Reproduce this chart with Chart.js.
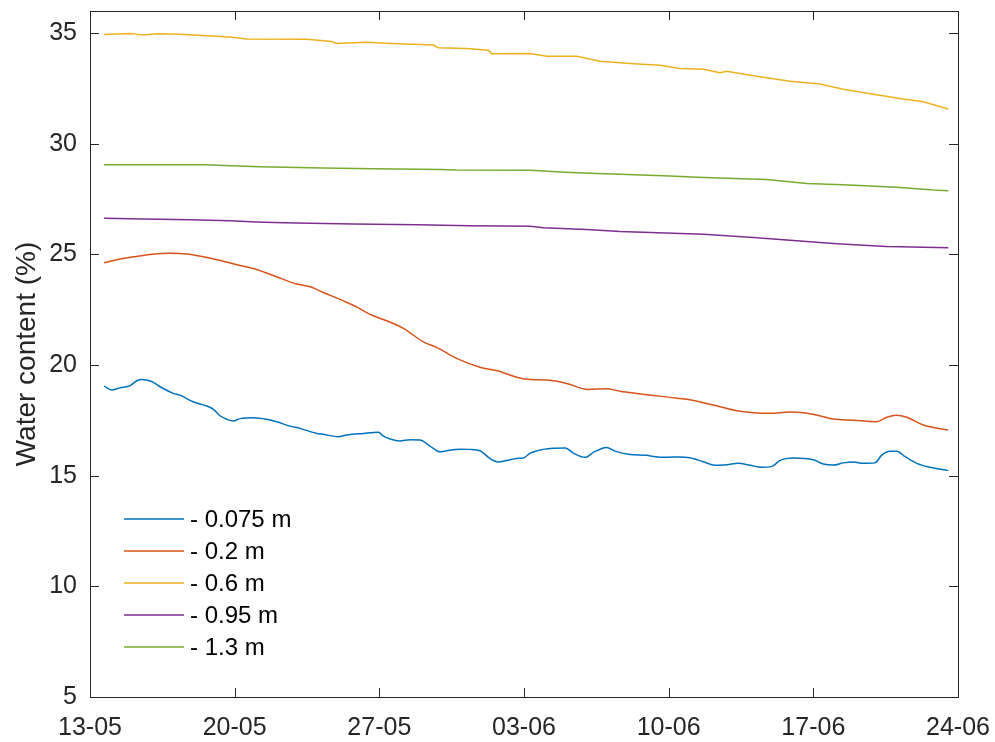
<!DOCTYPE html>
<html>
<head>
<meta charset="utf-8">
<title>Water content</title>
<script src="https://cdn.jsdelivr.net/npm/chart.js@4.4.1/dist/chart.umd.min.js"></script>
<style>
  html, body { margin: 0; padding: 0; background: #ffffff; }
  #wrap { width: 995px; height: 742px; }
</style>
</head>
<body>
<div id="wrap"><canvas id="c" width="995" height="742"></canvas></div>
<script>
// Days counted from 13-05; tick labels every week
const xTickDays = [0, 7, 14, 21, 28, 35, 42];
const xTickLabels = ['13-05', '20-05', '27-05', '03-06', '10-06', '17-06', '24-06'];
const yTicks = [5, 10, 15, 20, 25, 30, 35];

const seriesLabels = ['- 0.075 m', '- 0.2 m', '- 0.6 m', '- 0.95 m', '- 1.3 m'];
const seriesColors = ['#0072BD', '#D95319', '#EDB120', '#7E2F8E', '#77AC30'];

// - 0.075 m
const daysA = [0.68, 1.05, 1.45, 1.94, 2.26, 2.5, 2.98, 3.39, 4.03, 4.35, 4.99, 5.65, 5.97, 6.29, 6.62, 6.94,
  7.26, 7.9, 8.55, 9.03, 9.68, 10.16, 10.97, 11.29, 12.02, 12.42, 13.23, 13.95, 14.2, 14.52, 15.0, 15.48,
  15.97, 16.45, 16.94, 17.26, 17.9, 18.39, 18.87, 19.35, 19.76, 20.16, 20.65, 20.97, 21.29, 21.94, 22.42,
  23.0, 23.4, 23.95, 24.4, 25.0, 25.4, 26.13, 26.94, 27.26, 27.9, 28.5, 29.03, 29.68, 30.24, 30.81, 31.37,
  31.94, 32.5, 32.98, 33.39, 34.03, 35.0, 35.48, 35.97, 36.45, 36.94, 37.42, 37.98, 38.31, 38.71, 39.03,
  39.44, 40.0, 40.65, 41.53];
const valsA = [19.05, 18.87, 18.97, 19.07, 19.29, 19.35, 19.26, 19.02, 18.72, 18.64, 18.34, 18.15, 18.0, 17.71,
  17.55, 17.47, 17.58, 17.62, 17.55, 17.44, 17.24, 17.14, 16.91, 16.87, 16.76, 16.84, 16.91, 16.96, 16.79,
  16.66, 16.57, 16.63, 16.61, 16.34, 16.08, 16.13, 16.2, 16.19, 16.13, 15.78, 15.62, 15.69, 15.78, 15.8,
  16.01, 16.19, 16.24, 16.25, 16.01, 15.83, 16.08, 16.28, 16.11, 15.96, 15.92, 15.87, 15.83, 15.85, 15.81,
  15.63, 15.47, 15.5, 15.56, 15.47, 15.38, 15.41, 15.69, 15.8, 15.72, 15.53, 15.48, 15.58, 15.62, 15.56,
  15.58, 15.93, 16.1, 16.1, 15.86, 15.56, 15.38, 15.23];

// - 0.2 m
const daysB = [0.68, 1.45, 2.1, 2.9, 3.87, 4.68, 5.48, 6.45, 7.26, 8.06, 9.03, 10.0, 10.65, 11.29, 12.26, 12.9,
  13.55, 14.19, 15.16, 16.13, 16.77, 17.74, 18.87, 19.76, 20.32, 21.05, 22.26, 23.07, 24.1, 25.0, 25.65,
  26.45, 27.26, 28.06, 28.87, 29.68, 30.48, 31.29, 32.1, 32.9, 33.87, 34.52, 35.16, 35.97, 36.94, 38.06,
  38.55, 39.03, 39.52, 40.32, 41.53];
const valsB = [24.62, 24.79, 24.89, 25.0, 25.05, 25.02, 24.89, 24.69, 24.5, 24.32, 23.99, 23.66, 23.54, 23.28,
  22.9, 22.63, 22.29, 22.06, 21.66, 21.05, 20.8, 20.3, 19.9, 19.73, 19.55, 19.37, 19.31, 19.17, 18.9, 18.93,
  18.82, 18.72, 18.63, 18.54, 18.45, 18.3, 18.12, 17.94, 17.85, 17.82, 17.88, 17.85, 17.74, 17.56, 17.51,
  17.44, 17.64, 17.73, 17.64, 17.29, 17.06];

// - 0.6 m
const daysC = [0.68, 1.94, 2.58, 3.23, 4.35, 5.65, 6.77, 7.58, 10.48, 11.69, 11.94, 13.39, 14.52, 16.61, 16.85,
  18.23, 19.27, 19.44, 21.29, 22.1, 23.55, 24.68, 26.13, 27.58, 28.55, 29.68, 30.48, 30.81, 32.1, 33.87,
  35.32, 36.45, 37.9, 39.35, 40.32, 41.53];
const valsC = [34.94, 34.98, 34.91, 34.97, 34.95, 34.88, 34.83, 34.74, 34.72, 34.62, 34.53, 34.59, 34.53, 34.46,
  34.34, 34.31, 34.23, 34.07, 34.08, 33.96, 33.96, 33.73, 33.63, 33.55, 33.4, 33.37, 33.21, 33.28, 33.07,
  32.83, 32.7, 32.46, 32.24, 32.02, 31.9, 31.57];

// - 0.95 m
const daysD = [0.68, 2.58, 4.84, 6.78, 8.06, 9.35, 12.74, 15.81, 18.39, 21.29, 21.94, 24.03, 25.65, 29.68,
  32.1, 33.71, 36.13, 38.55, 41.53];
const valsD = [26.64, 26.6, 26.57, 26.52, 26.47, 26.43, 26.37, 26.34, 26.29, 26.27, 26.2, 26.13, 26.04, 25.91,
  25.77, 25.65, 25.48, 25.36, 25.3];

// - 1.3 m
const daysE = [0.68, 5.65, 6.45, 8.23, 11.29, 13.71, 16.94, 17.74, 21.29, 23.0, 24.52, 25.65, 28.06, 29.68,
  32.74, 34.68, 36.45, 39.03, 40.81, 41.53];
const valsE = [29.05, 29.05, 29.02, 28.96, 28.91, 28.87, 28.84, 28.81, 28.8, 28.71, 28.66, 28.62, 28.54, 28.48,
  28.39, 28.21, 28.15, 28.03, 27.91, 27.88];

const seriesDays = [daysA, daysB, daysC, daysD, daysE];
const seriesVals = [valsA, valsB, valsC, valsD, valsE];
const smoothSeries = [true, true, false, false, false];

const FONT = '"Liberation Sans", Arial, Helvetica, sans-serif';
const INK = '#262626';

const datasets = seriesLabels.map((label, i) => ({
  label,
  data: seriesDays[i].map((d, k) => ({ x: d, y: seriesVals[i][k] })),
  borderColor: seriesColors[i],
  backgroundColor: seriesColors[i],
  borderWidth: 1.5,
  pointRadius: 0,
  fill: false,
  cubicInterpolationMode: smoothSeries[i] ? 'monotone' : 'default',
  tension: 0
}));

// Box around the plot, inward ticks on all four sides, and an inline legend
const boxPlugin = {
  id: 'boxPlugin',
  afterDraw(chart) {
    const { ctx, chartArea: a, scales } = chart;
    const len = 9;
    ctx.save();
    ctx.strokeStyle = INK;
    ctx.lineWidth = 1;
    ctx.beginPath();
    xTickDays.forEach(v => {
      const px = Math.round(scales.x.getPixelForValue(v)) + 0.5;
      ctx.moveTo(px, a.bottom); ctx.lineTo(px, a.bottom - len);
      ctx.moveTo(px, a.top); ctx.lineTo(px, a.top + len);
    });
    yTicks.forEach(v => {
      const py = Math.round(scales.y.getPixelForValue(v)) + 0.5;
      ctx.moveTo(a.left, py); ctx.lineTo(a.left + len, py);
      ctx.moveTo(a.right, py); ctx.lineTo(a.right - len, py);
    });
    ctx.stroke();
    ctx.strokeRect(Math.round(a.left) + 0.5, Math.round(a.top) + 0.5,
      Math.round(a.right - a.left), Math.round(a.bottom - a.top));

    // legend
    ctx.font = '24px ' + FONT;
    ctx.textBaseline = 'middle';
    ctx.fillStyle = '#000000';
    const x0 = a.left + 34, x1 = a.left + 94, xt = a.left + 100;
    chart.data.datasets.forEach((ds, i) => {
      const y = a.bottom - 178 + i * 32;
      ctx.strokeStyle = ds.borderColor;
      ctx.lineWidth = 1.5;
      ctx.beginPath();
      ctx.moveTo(x0, y); ctx.lineTo(x1, y);
      ctx.stroke();
      ctx.fillText(ds.label, xt, y + 1);
    });
    ctx.restore();
  }
};

new Chart(document.getElementById('c'), {
  type: 'line',
  data: { datasets },
  options: {
    responsive: false,
    animation: false,
    devicePixelRatio: 1,
    layout: { padding: { top: 11, right: 37, left: 0, bottom: 0 } },
    plugins: { legend: { display: false }, tooltip: { enabled: false } },
    scales: {
      x: {
        type: 'linear',
        min: 0,
        max: 42,
        afterBuildTicks: s => { s.ticks = xTickDays.map(v => ({ value: v })); },
        afterFit: s => {
          s.height = 45;
          s.paddingLeft = 0; s.paddingRight = 0;
        },
        ticks: {
          autoSkip: false,
          maxRotation: 0,
          padding: 16,
          color: INK,
          font: { family: FONT, size: 25 },
          callback: v => xTickLabels[xTickDays.indexOf(v)]
        },
        grid: { display: false, drawTicks: false },
        border: { display: false }
      },
      y: {
        min: 5,
        max: 36,
        afterBuildTicks: s => { s.ticks = yTicks.map(v => ({ value: v })); },
        afterFit: s => {
          s.width = 90;
          s.paddingTop = 0; s.paddingBottom = 0;
        },
        ticks: {
          padding: 13,
          color: INK,
          font: { family: FONT, size: 25 }
        },
        grid: { display: false, drawTicks: false },
        border: { display: false },
        title: {
          display: true,
          text: 'Water content (%)',
          color: INK,
          font: { family: FONT, size: 28 },
          padding: { top: 10, bottom: 0 }
        }
      }
    }
  },
  plugins: [boxPlugin]
});
</script>
</body>
</html>
